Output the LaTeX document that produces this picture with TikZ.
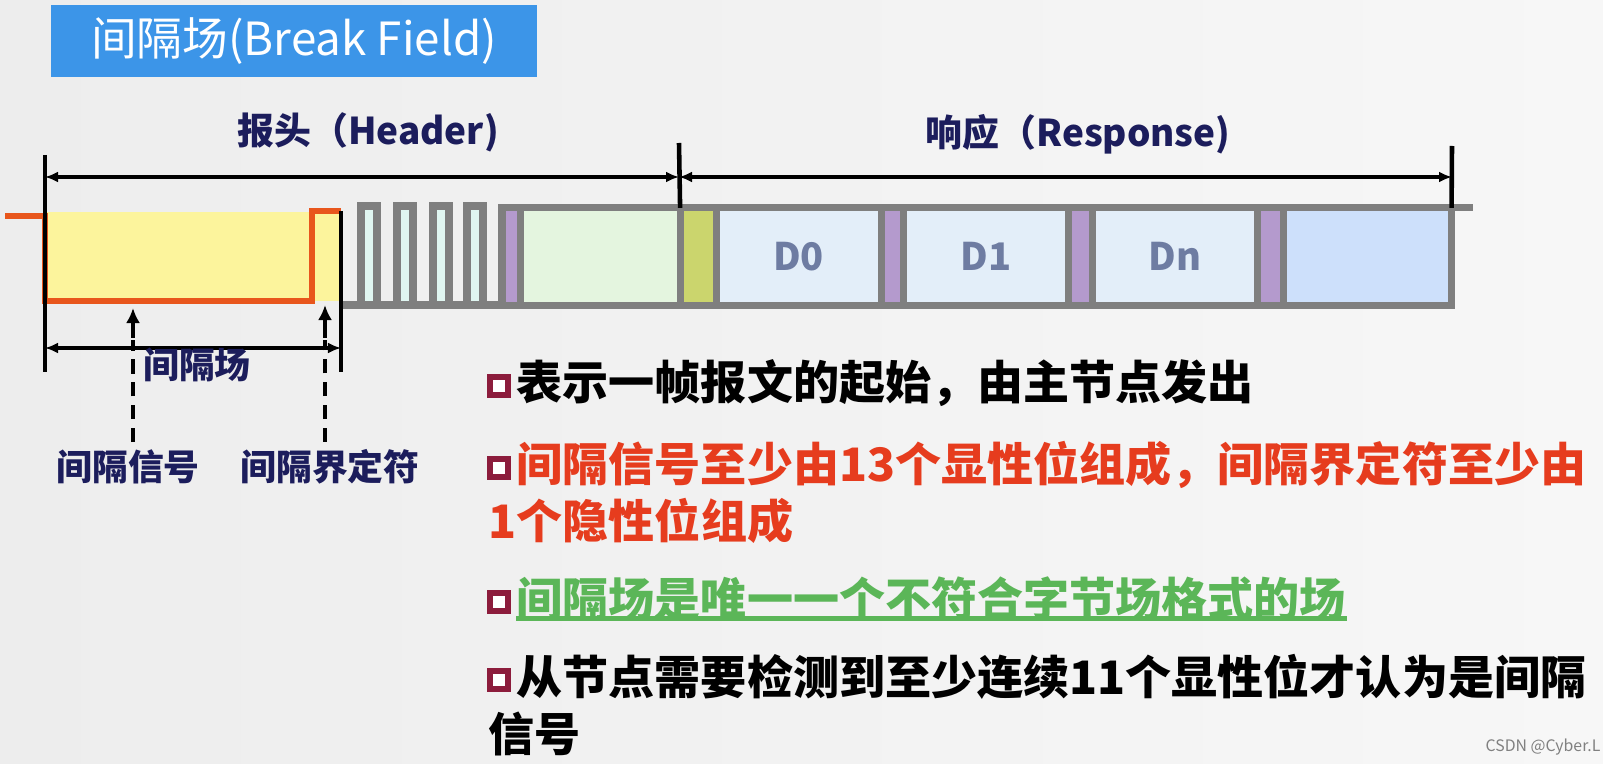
\documentclass[tikz,border=0pt]{standalone}
\usepackage{fontspec}
\setmainfont{Noto Sans CJK SC}
\usetikzlibrary{arrows.meta, positioning}
\definecolor{cbgl}{HTML}{EDEDED}
\definecolor{cbgr}{HTML}{F7F7F7}
\definecolor{ctitle}{HTML}{3C95E8}
\definecolor{cnavy}{HTML}{1C1D5C}
\definecolor{cframe}{HTML}{7F7F7F}
\definecolor{corange}{HTML}{E8561C}
\definecolor{cyellow}{HTML}{FCF49C}
\definecolor{cpulse}{HTML}{E0F6F1}
\definecolor{cpurple}{HTML}{B49ACD}
\definecolor{cgreenbox}{HTML}{E4F5DF}
\definecolor{colive}{HTML}{CBD56D}
\definecolor{cdata}{HTML}{E3EEF9}
\definecolor{clast}{HTML}{CDE0FB}
\definecolor{cdtext}{HTML}{6E7CA2}
\definecolor{cred}{HTML}{E63C1E}
\definecolor{cgreentext}{HTML}{5BB658}
\definecolor{cbullet}{HTML}{8C1C3C}
\tikzset{
  titlebox/.style={fill=ctitle, text=white, minimum width=4.86cm, minimum height=0.72cm, font=\fontsize{13}{15}\selectfont},
  hdr/.style={text=cnavy, font=\fontsize{10.5}{13}\selectfont\bfseries},
  lbl/.style={text=cnavy, inner sep=2pt, font=\fontsize{10.2}{12}\selectfont\bfseries},
  cell/.style={draw=cframe, fill=#1, line width=2pt, minimum height=0.97cm, inner sep=0pt, outer sep=0pt, text=cdtext, font=\fontsize{10.8}{12}\selectfont\bfseries},
  tick/.style={black, line width=1.3pt},
  dim/.style={{Latex[length=0.13cm, width=0.11cm]}-{Latex[length=0.13cm, width=0.11cm]}, black, line width=0.9pt},
  upar/.style={-{Latex[length=0.15cm, width=0.14cm]}, black, line width=1.1pt},
  dashline/.style={black, line width=1.1pt, dash pattern=on 4pt off 2.5pt},
  bullet/.style={draw=cbullet, fill=white, line width=1.6pt, minimum size=0.18cm, inner sep=0pt},
  txtline/.style={anchor=west, inner sep=0pt, font=\fontsize{13.1}{16}\selectfont\bfseries},
}
\begin{document}
\begin{tikzpicture}[x=0.01cm, y=-0.01cm]
  \useasboundingbox (0,0) rectangle (1603,764);
  \shade[left color=cbgl, right color=cbgr] (0,0) rectangle (1603,764);
  \node[titlebox] (title) at (294,41) {间隔场(Break Field)};
  \node[hdr] (header) at (368,132) {报头（Header)};
  \node[hdr] (response) at (1078,134) {响应（Response)};
  % break field
  \fill[cyellow] (45,212) rectangle (341,301);
  \foreach \px in {361,397,433,467}
    \filldraw[fill=cpulse, draw=cframe, line width=2pt] (\px,305) -- (\px,206) -- (\px+16,206) -- (\px+16,305);
  \draw[cframe, line width=2pt] (341,305) -- (503,305);
  % fields
  \node[cell=cpurple, minimum width=0.18cm, anchor=west] (sync) at (502,256.5) {};
  \node[cell=cgreenbox, minimum width=1.60cm, right=0pt of sync] (pid) {};
  \node[cell=colive, minimum width=0.36cm, right=0pt of pid] (rsp) {};
  \node[cell=cdata, minimum width=1.65cm, right=0pt of rsp] (d0) {D0};
  \node[cell=cpurple, minimum width=0.22cm, right=0pt of d0] (s1) {};
  \node[cell=cdata, minimum width=1.65cm, right=0pt of s1] (d1) {D1};
  \node[cell=cpurple, minimum width=0.24cm, right=0pt of d1] (s2) {};
  \node[cell=cdata, minimum width=1.65cm, right=0pt of s2] (dn) {Dn};
  \node[cell=cpurple, minimum width=0.26cm, right=0pt of dn] (s3) {};
  \node[cell=clast, minimum width=1.68cm, right=0pt of s3] (crc) {};
  \draw[cframe, line width=2pt] (crc.north east) -- ++(21,0);
  \draw[corange, line width=1.5pt] (5,216) -- (45,216) -- (45,301) -- (312,301) -- (312,211) -- (341,211);
  % dimension lines
  \coordinate (h0) at (45,177);
  \coordinate (h1) at (679,177);
  \coordinate (h2) at (1452,177);
  \coordinate (g0) at (45,348);
  \coordinate (g1) at (341,348);
  \draw[tick] (45,155) -- (45,372);
  \draw[tick] (341,211) -- (341,372);
  \draw[tick] (679,143) -- (rsp.north west);
  \draw[tick] (1452,146) -- (crc.north east);
  \draw[dim] (h0) -- (h1);
  \draw[dim] (h1) -- (h2);
  \draw[dim] (g0) -- (g1);
  \node[lbl] (gap) at (197,365) {间隔场};
  \node[lbl] (sig) at (128,467) {间隔信号};
  \node[lbl] (del) at (330,467) {间隔界定符};
  \coordinate (sigtip) at (133,308);
  \coordinate (deltip) at (325,305);
  \draw[upar] (133,338) -- (sigtip);
  \draw[upar] (325,338) -- (deltip);
  \draw[dashline] (sig.north -| sigtip) -- (133,340);
  \draw[dashline] (del.north -| deltip) -- (325,340);
  % notes
  \foreach \by/\nm in {386/b1, 468/b2, 602/b4, 680/b5}
    \node[bullet] (\nm) at (499,\by) {};
  \node[txtline, text=black] (t1) at (516,383) {表示一帧报文的起始，由主节点发出};
  \node[txtline, text=cred] (t2) at (516,465) {间隔信号至少由13个显性位组成，间隔界定符至少由};
  \node[txtline, text=cred] (t3) at (488,521) {1个隐性位组成};
  \node[txtline, text=cgreentext] (t4) at (516,599) {间隔场是唯一一个不符合字节场格式的场};
  \draw[cgreentext, line width=1.3pt] ([yshift=1pt]t4.south west) -- ([yshift=1pt]t4.south east);
  \node[txtline, text=black] (t5) at (516,677) {从节点需要检测到至少连续11个显性位才认为是间隔};
  \node[txtline, text=black] (t6) at (488,734) {信号};
  \node[text=gray, font=\fontsize{4.5}{5}\selectfont] (mark) at (1543,747) {CSDN @Cyber.L};
\end{tikzpicture}
\end{document}
